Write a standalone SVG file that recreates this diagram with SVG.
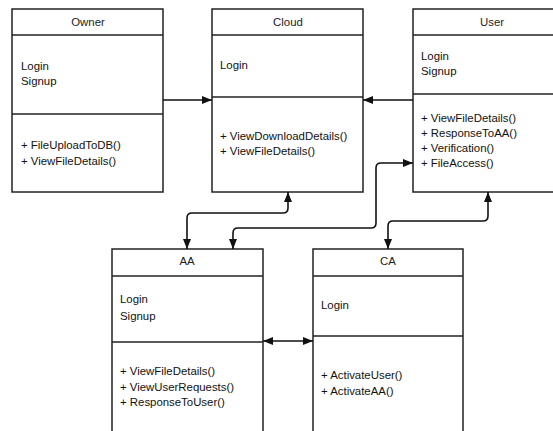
<svg xmlns="http://www.w3.org/2000/svg" width="553" height="431" viewBox="0 0 553 431">
  <style>
    .box { fill: #ffffff; stroke: #222222; stroke-width: 1.5; }
    .sep { stroke: #222222; stroke-width: 1.5; }
    .title { font-family: "Liberation Sans", Arial, sans-serif; font-size: 11.4px; fill: #222222; text-anchor: middle; }
    .txt { font-family: "Liberation Sans", Arial, sans-serif; font-size: 11.4px; fill: #111111; }
    .conn { fill: none; stroke: #111111; stroke-width: 1.6; }
  </style>
  <defs>
    <marker id="arrow" viewBox="0 0 10 8" refX="10" refY="4" markerWidth="10" markerHeight="8" markerUnits="userSpaceOnUse" orient="auto-start-reverse">
      <path d="M0,0 L10,4 L0,8 Z" fill="#111111"/>
    </marker>
  </defs>
  <rect width="553" height="431" fill="#ffffff"/>

  <!-- class boxes -->
  <g id="owner">
    <rect class="box" x="12" y="9" width="151" height="183"/>
    <line class="sep" x1="12" y1="35" x2="163" y2="35"/>
    <line class="sep" x1="12" y1="114" x2="163" y2="114"/>
    <text class="title" x="88" y="26">Owner</text>
    <text class="txt" x="21" y="70">Login</text>
    <text class="txt" x="21" y="85">Signup</text>
    <text class="txt" x="21" y="149">+ FileUploadToDB()</text>
    <text class="txt" x="21" y="165">+ ViewFileDetails()</text>
  </g>

  <g id="cloud">
    <rect class="box" x="212" y="9" width="151" height="183"/>
    <line class="sep" x1="212" y1="35" x2="363" y2="35"/>
    <line class="sep" x1="212" y1="97" x2="363" y2="97"/>
    <text class="title" x="288" y="26">Cloud</text>
    <text class="txt" x="220" y="69">Login</text>
    <text class="txt" x="220" y="140">+ ViewDownloadDetails()</text>
    <text class="txt" x="220" y="155">+ ViewFileDetails()</text>
  </g>

  <g id="user">
    <rect class="box" x="413" y="9" width="150" height="183"/>
    <line class="sep" x1="413" y1="35" x2="563" y2="35"/>
    <line class="sep" x1="413" y1="94" x2="563" y2="94"/>
    <text class="title" x="492" y="26">User</text>
    <text class="txt" x="421" y="60">Login</text>
    <text class="txt" x="421" y="75">Signup</text>
    <text class="txt" x="421" y="122">+ ViewFileDetails()</text>
    <text class="txt" x="421" y="137">+ ResponseToAA()</text>
    <text class="txt" x="421" y="152">+ Verification()</text>
    <text class="txt" x="421" y="167">+ FileAccess()</text>
  </g>

  <g id="aa">
    <rect class="box" x="112" y="249" width="151" height="195"/>
    <line class="sep" x1="112" y1="276" x2="263" y2="276"/>
    <line class="sep" x1="112" y1="342" x2="263" y2="342"/>
    <text class="title" x="187" y="265">AA</text>
    <text class="txt" x="120" y="303">Login</text>
    <text class="txt" x="120" y="320">Signup</text>
    <text class="txt" x="120" y="375">+ ViewFileDetails()</text>
    <text class="txt" x="120" y="391">+ ViewUserRequests()</text>
    <text class="txt" x="120" y="406">+ ResponseToUser()</text>
  </g>

  <g id="ca">
    <rect class="box" x="313" y="249" width="150" height="195"/>
    <line class="sep" x1="313" y1="276" x2="463" y2="276"/>
    <line class="sep" x1="313" y1="336" x2="463" y2="336"/>
    <text class="title" x="388" y="265">CA</text>
    <text class="txt" x="321" y="309">Login</text>
    <text class="txt" x="321" y="379">+ ActivateUser()</text>
    <text class="txt" x="321" y="395">+ ActivateAA()</text>
  </g>

  <!-- connectors -->
  <g id="connectors">
    <line class="conn" x1="163" y1="100" x2="212" y2="100" marker-end="url(#arrow)"/>
    <line class="conn" x1="413" y1="100" x2="363" y2="100" marker-end="url(#arrow)"/>
    <path class="conn" d="M288,192 L288,208 Q288,213 283,213 L192,213 Q187,213 187,218 L187,249" marker-start="url(#arrow)" marker-end="url(#arrow)"/>
    <path class="conn" d="M413,163 L381,163 Q376,163 376,168 L376,223 Q376,228 371,228 L238,228 Q233,228 233,233 L233,249" marker-start="url(#arrow)" marker-end="url(#arrow)"/>
    <path class="conn" d="M488,192 L488,216 Q488,221 483,221 L393,221 Q388,221 388,226 L388,249" marker-start="url(#arrow)" marker-end="url(#arrow)"/>
    <line class="conn" x1="263" y1="341" x2="313" y2="341" marker-start="url(#arrow)" marker-end="url(#arrow)"/>
  </g>
</svg>
